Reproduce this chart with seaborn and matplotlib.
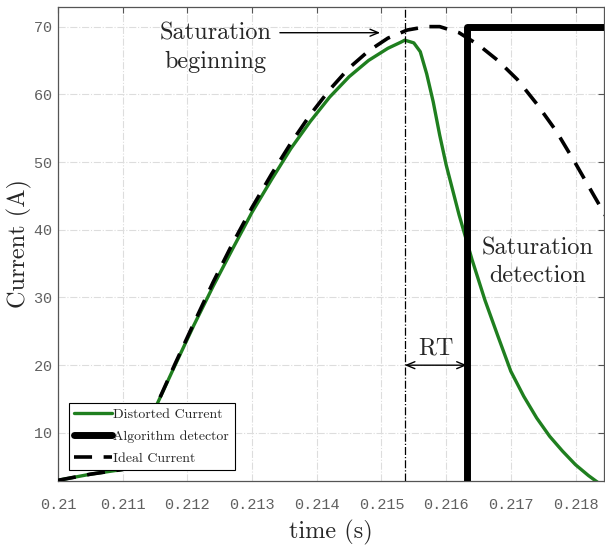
import seaborn as sns
import numpy as np
import matplotlib.pyplot as plt

# distorted (saturated CT) current
t_dist = [0.2100, 0.2105, 0.2110, 0.2112, 0.2115, 0.2118, 0.2121, 0.2124,
          0.2127, 0.2130, 0.2133, 0.2136, 0.2139, 0.2142, 0.2145, 0.2148,
          0.2151, 0.2153, 0.21536, 0.2155, 0.2156, 0.2157, 0.2158, 0.2159,
          0.2160, 0.2162, 0.2164, 0.2166, 0.2168, 0.2170, 0.2172, 0.2174,
          0.2176, 0.2178, 0.2180, 0.2182, 0.2184]
i_dist = [3.0, 3.9, 4.6, 6.5, 13.6, 19.8, 25.9, 31.7,
          37.2, 42.6, 47.4, 52.0, 56.0, 59.6, 62.6, 65.0,
          66.8, 67.7, 68.0, 67.6, 66.3, 63.0, 58.9, 54.0,
          49.6, 42.2, 35.6, 29.6, 24.3, 19.1, 15.4, 12.2,
          9.5, 7.3, 5.3, 3.7, 2.3]

# ideal current
t_ideal = [0.2100, 0.2105, 0.2110, 0.2112, 0.2115, 0.2118, 0.2121, 0.2124,
           0.2127, 0.2130, 0.2133, 0.2136, 0.2139, 0.2142, 0.2145, 0.2148,
           0.2151, 0.2154, 0.2157, 0.2159, 0.2162, 0.2165, 0.2168, 0.2171,
           0.2174, 0.2177, 0.2180, 0.2183, 0.2185]
i_ideal = [3.0, 3.9, 4.6, 6.5, 13.6, 20.0, 26.2, 32.3,
           38.0, 43.3, 48.2, 52.8, 57.0, 60.7, 63.9, 66.4,
           68.3, 69.5, 70.0, 70.0, 69.1, 67.3, 65.0, 62.2,
           58.6, 54.6, 49.8, 44.8, 41.5]

# algorithm detector output
t_det = [0.2100, 0.21632, 0.21632, 0.2185]
i_det = [0, 0, 70, 70]

t_sat = 0.21536   # saturation beginning
t_rt = 0.21632    # detection instant

xticks = [0.21, 0.211, 0.212, 0.213, 0.214, 0.215, 0.216, 0.217, 0.218]
yticks = [10, 20, 30, 40, 50, 60, 70]

sns.set_style("white")
serif = 'cmr10'
plt.rcParams['axes.formatter.use_mathtext'] = True

fig = plt.figure(figsize=(6.05, 5.5), dpi=100)
ax = fig.add_axes([0.0959, 0.1255, 0.9024, 0.8618])

sns.lineplot(x=t_dist, y=i_dist, ax=ax, color='#1f7f1f', linewidth=2.4,
             estimator=None, sort=False, label='Distorted Current', zorder=2)
sns.lineplot(x=t_det, y=i_det, ax=ax, color='black', linewidth=5,
             estimator=None, sort=False, label='Algorithm detector', zorder=4)
sns.lineplot(x=t_ideal, y=i_ideal, ax=ax, color='black', linewidth=2.6,
             estimator=None, sort=False, label='Ideal Current', zorder=3,
             linestyle=(0, (5, 3.2)))

ax.axvline(t_sat, color='black', linewidth=0.9, linestyle='-.', zorder=3)

ax.set_xlim(0.21, 0.21844)
ax.set_ylim(2.9, 72.9)
ax.set_xticks(xticks)
ax.set_xticklabels([str(v) for v in xticks])
ax.set_yticks(yticks)

ax.grid(True, color='#dddddd', linestyle='-.', linewidth=0.8)
for s in ax.spines.values():
    s.set_color('#555555')
    s.set_linewidth(0.9)
ax.tick_params(direction='in', length=4, width=0.8, color='#555555',
               top=True, right=True, labelsize=11, labelcolor='#606060')
ax.tick_params(axis='x', pad=12)
ax.tick_params(axis='y', pad=4)
for lab in ax.get_xticklabels() + ax.get_yticklabels():
    lab.set_family('Liberation Mono')

ax.set_xlabel('time (s)', fontsize=17.5, family=serif, labelpad=6)
ax.set_ylabel('Current (A)', fontsize=17.5, family=serif, labelpad=1)

# annotations
ax.text(0.21243, 66.9, 'Saturation\nbeginning', fontsize=17.5, family=serif,
        ha='center', va='center', linespacing=1.35)
ax.annotate('', xy=(0.21498, 69.1), xytext=(0.21343, 69.1),
            arrowprops=dict(arrowstyle='->,head_length=0.6,head_width=0.25',
                            color='black', lw=1.0, shrinkA=0, shrinkB=0))
ax.annotate('', xy=(t_sat, 20), xytext=(t_rt, 20),
            arrowprops=dict(arrowstyle='<->,head_length=0.6,head_width=0.25',
                            color='black', lw=1.0, shrinkA=0, shrinkB=0))
ax.text((t_sat + t_rt) / 2, 20.9, 'RT', fontsize=17.5, family=serif,
        ha='center', va='bottom')
ax.text(0.21742, 35.2, 'Saturation\ndetection', fontsize=17.5, family=serif,
        ha='center', va='center', linespacing=1.35)

leg = ax.legend(loc='lower left', bbox_to_anchor=(0.02, 0.023),
                prop={'family': serif, 'size': 10}, frameon=True,
                fancybox=False, framealpha=1, edgecolor='black',
                borderpad=0.4, labelspacing=0.65, handlelength=2.7,
                handletextpad=0.1, borderaxespad=0)
leg.get_frame().set_linewidth(0.8)

plt.savefig('out.png', dpi=100)
plt.close()
